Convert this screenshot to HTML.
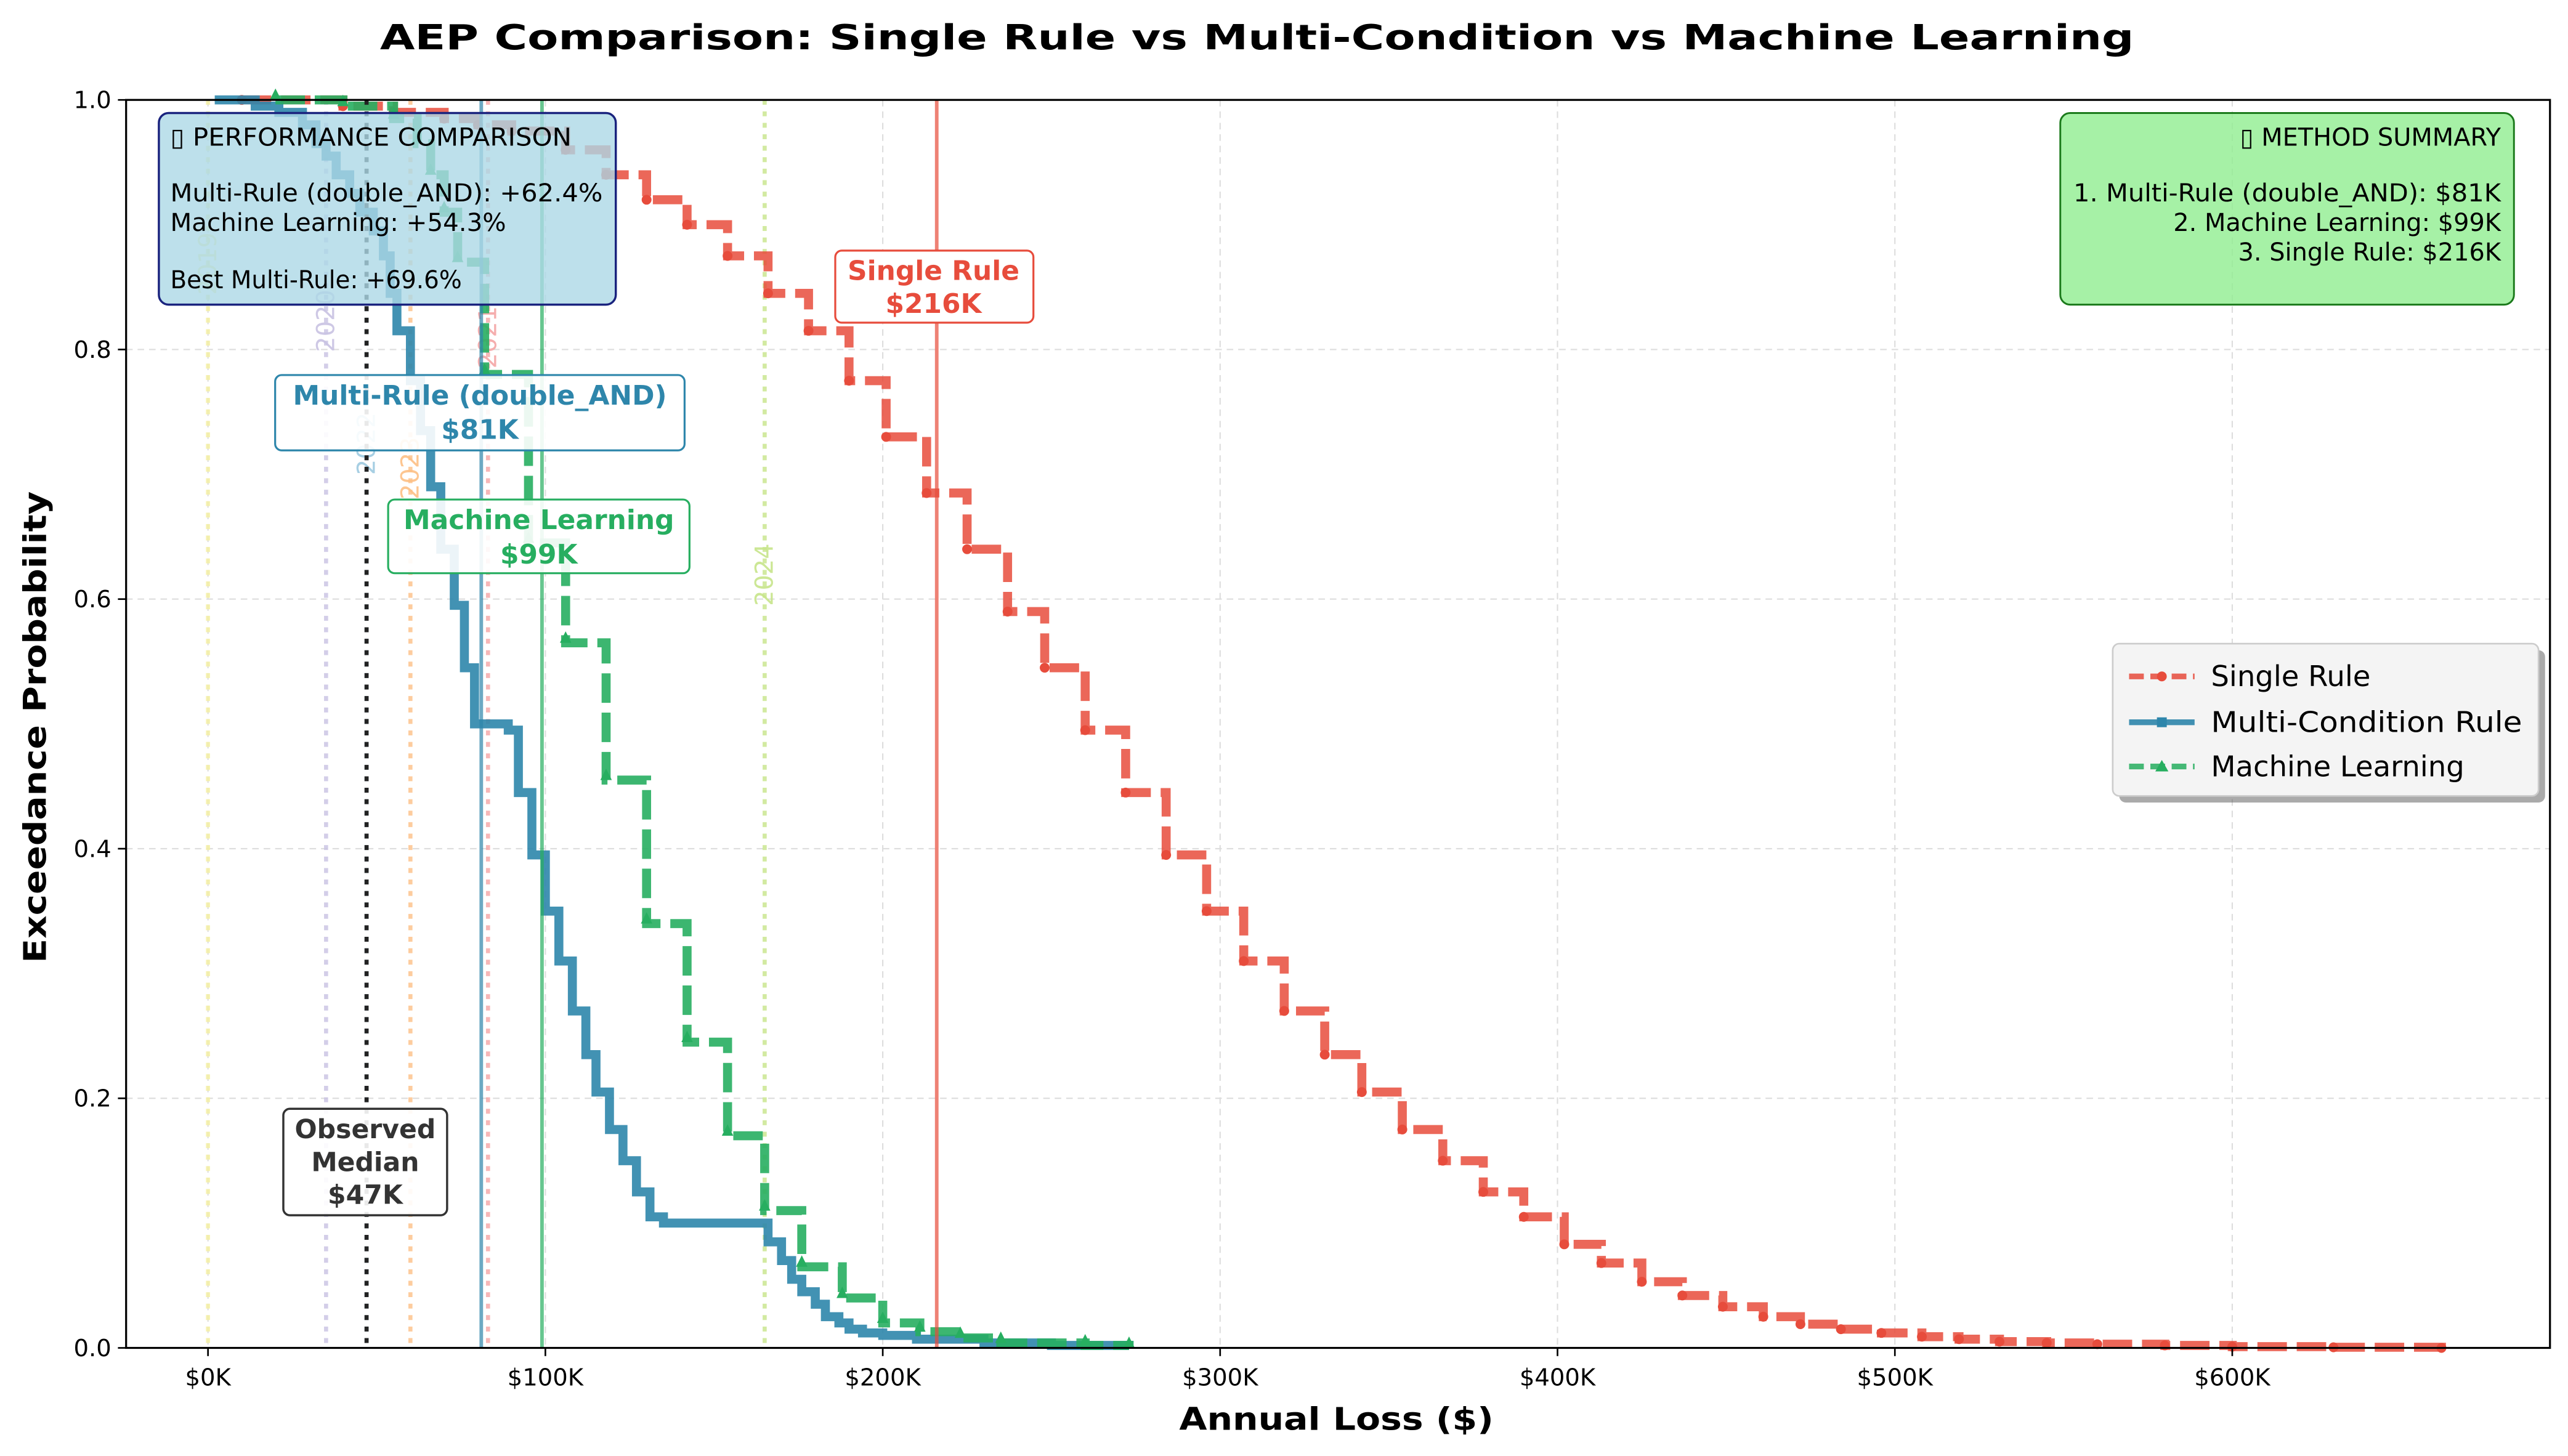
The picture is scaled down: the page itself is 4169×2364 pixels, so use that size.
<!DOCTYPE html>
<html><head><meta charset="utf-8"><style>
html,body{margin:0;padding:0;background:#fff}
svg{display:block}
text{font-family:"DejaVu Sans","Liberation Sans",sans-serif}
</style></head><body>
<svg id="chart" xmlns="http://www.w3.org/2000/svg" width="4169" height="2364" viewBox="0 0 1568 889" preserveAspectRatio="none">
<rect x="0" y="0" width="1568" height="889" fill="#fff"/>
<text x="232" y="30" font-size="21" font-weight="bold" textLength="1071" lengthAdjust="spacingAndGlyphs">AEP Comparison: Single Rule vs Multi-Condition vs Machine Learning</text>
<g id="grid"></g>
<g id="vlines"></g>
<g id="series"></g>
<rect x="77" y="61" width="1480" height="762" fill="none" stroke="#000" stroke-width="1.2"/>
<g id="axes"></g>
<text x="720" y="873" font-size="19" font-weight="bold" textLength="192" lengthAdjust="spacingAndGlyphs">Annual Loss ($)</text>
<text transform="translate(28,588) rotate(-90)" font-size="19" font-weight="bold" textLength="288" lengthAdjust="spacingAndGlyphs">Exceedance Probability</text>

<g>
<rect x="97" y="69" width="279" height="117" rx="6" fill="#add8e6" fill-opacity="0.8" stroke="#1a237e" stroke-width="1.3"/>
<text x="104" y="89" font-size="15" textLength="245" lengthAdjust="spacingAndGlyphs">▯ PERFORMANCE COMPARISON</text>
<text x="104" y="123" font-size="15" textLength="264" lengthAdjust="spacingAndGlyphs">Multi-Rule (double_AND): +62.4%</text>
<text x="104" y="141" font-size="15" textLength="205" lengthAdjust="spacingAndGlyphs">Machine Learning: +54.3%</text>
<text x="104" y="176" font-size="15" textLength="178" lengthAdjust="spacingAndGlyphs">Best Multi-Rule: +69.6%</text>
</g>
<g>
<rect x="1258" y="69" width="277" height="117" rx="6" fill="#90ee90" fill-opacity="0.8" stroke="#1b7a1b" stroke-width="1.1"/>
<text x="1527" y="89" font-size="15" text-anchor="end">▯ METHOD SUMMARY</text>
<text x="1527" y="123" font-size="15" text-anchor="end" textLength="261" lengthAdjust="spacingAndGlyphs">1. Multi-Rule (double_AND): $81K</text>
<text x="1527" y="141" font-size="15" text-anchor="end">2. Machine Learning: $99K</text>
<text x="1527" y="159" font-size="15" text-anchor="end">3. Single Rule: $216K</text>
</g>
<g>
<rect x="510" y="153" width="121" height="44" rx="4" fill="#fff" stroke="#e74c3c" stroke-width="1.2"/>
<text x="570" y="171" font-size="16.5" font-weight="bold" fill="#e74c3c" text-anchor="middle">Single Rule</text>
<text x="570" y="191" font-size="16.5" font-weight="bold" fill="#e74c3c" text-anchor="middle">$216K</text>
</g>
<g>
<rect x="168" y="229" width="250" height="46" rx="4" fill="#fff" fill-opacity="0.9" stroke="#2e86ab" stroke-width="1.2"/>
<text x="293" y="247" font-size="16.5" font-weight="bold" fill="#2e86ab" text-anchor="middle">Multi-Rule (double_AND)</text>
<text x="293" y="268" font-size="16.5" font-weight="bold" fill="#2e86ab" text-anchor="middle">$81K</text>
</g>
<g>
<rect x="237" y="305" width="184" height="45" rx="4" fill="#fff" fill-opacity="0.9" stroke="#27ae60" stroke-width="1.2"/>
<text x="329" y="323" font-size="16.5" font-weight="bold" fill="#27ae60" text-anchor="middle">Machine Learning</text>
<text x="329" y="344" font-size="16.5" font-weight="bold" fill="#27ae60" text-anchor="middle">$99K</text>
</g>
<g>
<rect x="173" y="677" width="100" height="65" rx="4" fill="#fff" fill-opacity="0.9" stroke="#333" stroke-width="1.3"/>
<text x="223" y="695" font-size="16" font-weight="bold" fill="#333" text-anchor="middle">Observed</text>
<text x="223" y="715" font-size="16" font-weight="bold" fill="#333" text-anchor="middle">Median</text>
<text x="223" y="735" font-size="16" font-weight="bold" fill="#333" text-anchor="middle">$47K</text>
</g>
<g>
<rect x="1294" y="397" width="260" height="93" rx="4" fill="#555" opacity="0.5"/>
<rect x="1290" y="393" width="260" height="93" rx="4" fill="#f4f4f4" stroke="#ccc"/>
<g><line x1="1300" y1="413" x2="1340" y2="413" stroke="#e74c3c" stroke-width="3.5" stroke-dasharray="9,4" opacity="0.85"/><circle cx="1320" cy="413" r="3" fill="#e74c3c"/><text x="1350" y="419" font-size="17.5">Single Rule</text></g>
<g><line x1="1300" y1="441" x2="1340" y2="441" stroke="#2e86ab" stroke-width="3.5" opacity="0.9"/><rect x="1317" y="438" width="6" height="6" fill="#2e86ab"/><text x="1350" y="447" font-size="17.5" textLength="190" lengthAdjust="spacingAndGlyphs">Multi-Condition Rule</text></g>
<g><line x1="1300" y1="468" x2="1340" y2="468" stroke="#27ae60" stroke-width="3.5" stroke-dasharray="9,4" opacity="0.85"/><path d="M1320,464 L1324,471 L1316,471Z" fill="#27ae60"/><text x="1350" y="474" font-size="17.5">Machine Learning</text></g>
</g>
</svg>
<script>
const xTicks=[0,100,200,300,400,500,600];
const xTickLabels=["$0K","$100K","$200K","$300K","$400K","$500K","$600K"];
const yTicks=[0,0.2,0.4,0.6,0.8,1.0];
const yTickLabels=["0.0","0.2","0.4","0.6","0.8","1.0"];
const singleLoss=[10,40,55,70,80,90,106,118,130,142,154,166,178,190,201,213,225,237,248,260,272,284,296,307,319,331,342,354,366,378,390,402,413,425,437,449,461,472,484,496,508,519,531,545,560,580,600,630,662];
const singleProb=[1.0,0.995,0.99,0.985,0.98,0.975,0.96,0.94,0.92,0.9,0.875,0.845,0.815,0.775,0.73,0.685,0.64,0.59,0.545,0.495,0.445,0.395,0.35,0.31,0.27,0.235,0.205,0.175,0.15,0.125,0.105,0.083,0.068,0.053,0.042,0.033,0.025,0.019,0.015,0.012,0.009,0.007,0.005,0.004,0.003,0.002,0.001,0.0005,0];
const multiLoss=[2,14,21,28,32,35,38,42,45,49,52,54,56,60,63,66,69,73,76,79,86,89,92,96,100,104,108,112,115,119,123,127,131,135,165,166,170,173,176,180,183,187,190,194,200,210,230,250,273];
const multiProb=[1.0,0.995,0.99,0.98,0.965,0.955,0.94,0.925,0.91,0.895,0.875,0.845,0.815,0.775,0.735,0.69,0.64,0.595,0.545,0.5,0.5,0.495,0.445,0.395,0.35,0.31,0.27,0.235,0.205,0.175,0.15,0.125,0.105,0.1,0.1,0.085,0.07,0.055,0.045,0.035,0.025,0.02,0.015,0.012,0.01,0.007,0.004,0.002,0];
const mlLoss=[20,40,55,62,66,70,74,82,95,106,118,130,142,154,165,176,188,200,211,223,235,260,273];
const mlProb=[1.0,0.995,0.985,0.965,0.94,0.91,0.87,0.78,0.645,0.565,0.455,0.34,0.245,0.17,0.11,0.065,0.04,0.02,0.013,0.008,0.004,0.002,0];
const yearLines=[0,35,47,60,83,165];
const yearLabels=["2019","2020","2022","2023","2021","2024"];
const yearColors=["#f5f0a0","#c9c3e3","#9ecae1","#fdc086","#f4a6a6","#c7e58a"];
const yearLabelY=[180,215,290,305,225,370];
const methodValues=[216,81,99,47];

const X=v=>127+v*2.06, Y=p=>823-762*p;
const NS="http://www.w3.org/2000/svg";
function mk(tag,attrs,parent){const e=document.createElementNS(NS,tag);for(const k in attrs)e.setAttribute(k,attrs[k]);parent.appendChild(e);return e;}
const grid=document.getElementById('grid'),axes=document.getElementById('axes'),vl=document.getElementById('vlines'),ser=document.getElementById('series');
xTicks.forEach((t,i)=>{
 const g=mk('line',{x1:X(t),x2:X(t),y1:61,y2:823,stroke:'#ddd','stroke-width':0.8,'stroke-dasharray':'4,3'},grid);
 
 
 mk('line',{x1:X(t),x2:X(t),y1:823,y2:828,stroke:'#000'},axes);
 const tx=mk('text',{x:X(t),y:846,'text-anchor':'middle','font-size':14.5},axes);tx.textContent=xTickLabels[i];
 
 
});
yTicks.forEach((t,i)=>{
 const g=mk('line',{x1:77,x2:1557,y1:Y(t),y2:Y(t),stroke:'#ddd','stroke-width':0.8,'stroke-dasharray':'4,3'},grid);
 
 
 mk('line',{x1:72,x2:77,y1:Y(t),y2:Y(t),stroke:'#000'},axes);
 const tx=mk('text',{x:68,y:Y(t)+5,'text-anchor':'end','font-size':14.5},axes);tx.textContent=yTickLabels[i];
 
 
});
yearLines.forEach((v,i)=>{
 const l=mk('line',{x1:X(v),x2:X(v),y1:61,y2:823,stroke:yearColors[i],'stroke-width':2.5,'stroke-dasharray':'3,4',opacity:0.8},vl);
 
 
 const t=mk('text',{transform:`translate(${X(v)+5},${yearLabelY[i]}) rotate(-90)`,'font-size':15,fill:yearColors[i],opacity:0.9},vl);t.textContent=yearLabels[i];
 
 
});
function pathOf(L,P){let d=`M${X(L[0])},${Y(P[0])}`;for(let i=1;i<L.length;i++)d+=` H${X(L[i])} V${Y(P[i])}`;return d;}
const s1=mk('path',{d:pathOf(singleLoss,singleProb),fill:'none',stroke:'#e74c3c','stroke-width':5.5,'stroke-dasharray':'18,6',opacity:0.85},ser);


singleLoss.forEach((v,i)=>{const m=mk('circle',{cx:X(v),cy:Y(singleProb[i]),r:3,fill:'#e74c3c'},ser);
 
 });
const s2=mk('path',{d:pathOf(multiLoss,multiProb),fill:'none',stroke:'#2e86ab','stroke-width':5.5,opacity:0.9},ser);


const s3=mk('path',{d:pathOf(mlLoss,mlProb),fill:'none',stroke:'#27ae60','stroke-width':5.5,'stroke-dasharray':'18,6',opacity:0.9},ser);


mlLoss.forEach((v,i)=>{const y=Y(mlProb[i]);const m=mk('path',{d:`M${X(v)},${y-7} L${X(v)+3.5},${y} L${X(v)-3.5},${y}Z`,fill:'#27ae60'},ser);
 
 });
const vcol=['#e74c3c','#2e86ab','#27ae60'];
[0,1,2].forEach(i=>{const l=mk('line',{x1:X(methodValues[i]),x2:X(methodValues[i]),y1:61,y2:823,stroke:vcol[i],'stroke-width':2.2,opacity:0.7},ser);
 
 });
const med=mk('line',{x1:X(methodValues[3]),x2:X(methodValues[3]),y1:61,y2:823,stroke:'#222','stroke-width':2.5,'stroke-dasharray':'3,4'},ser);


</script>
</body></html>
